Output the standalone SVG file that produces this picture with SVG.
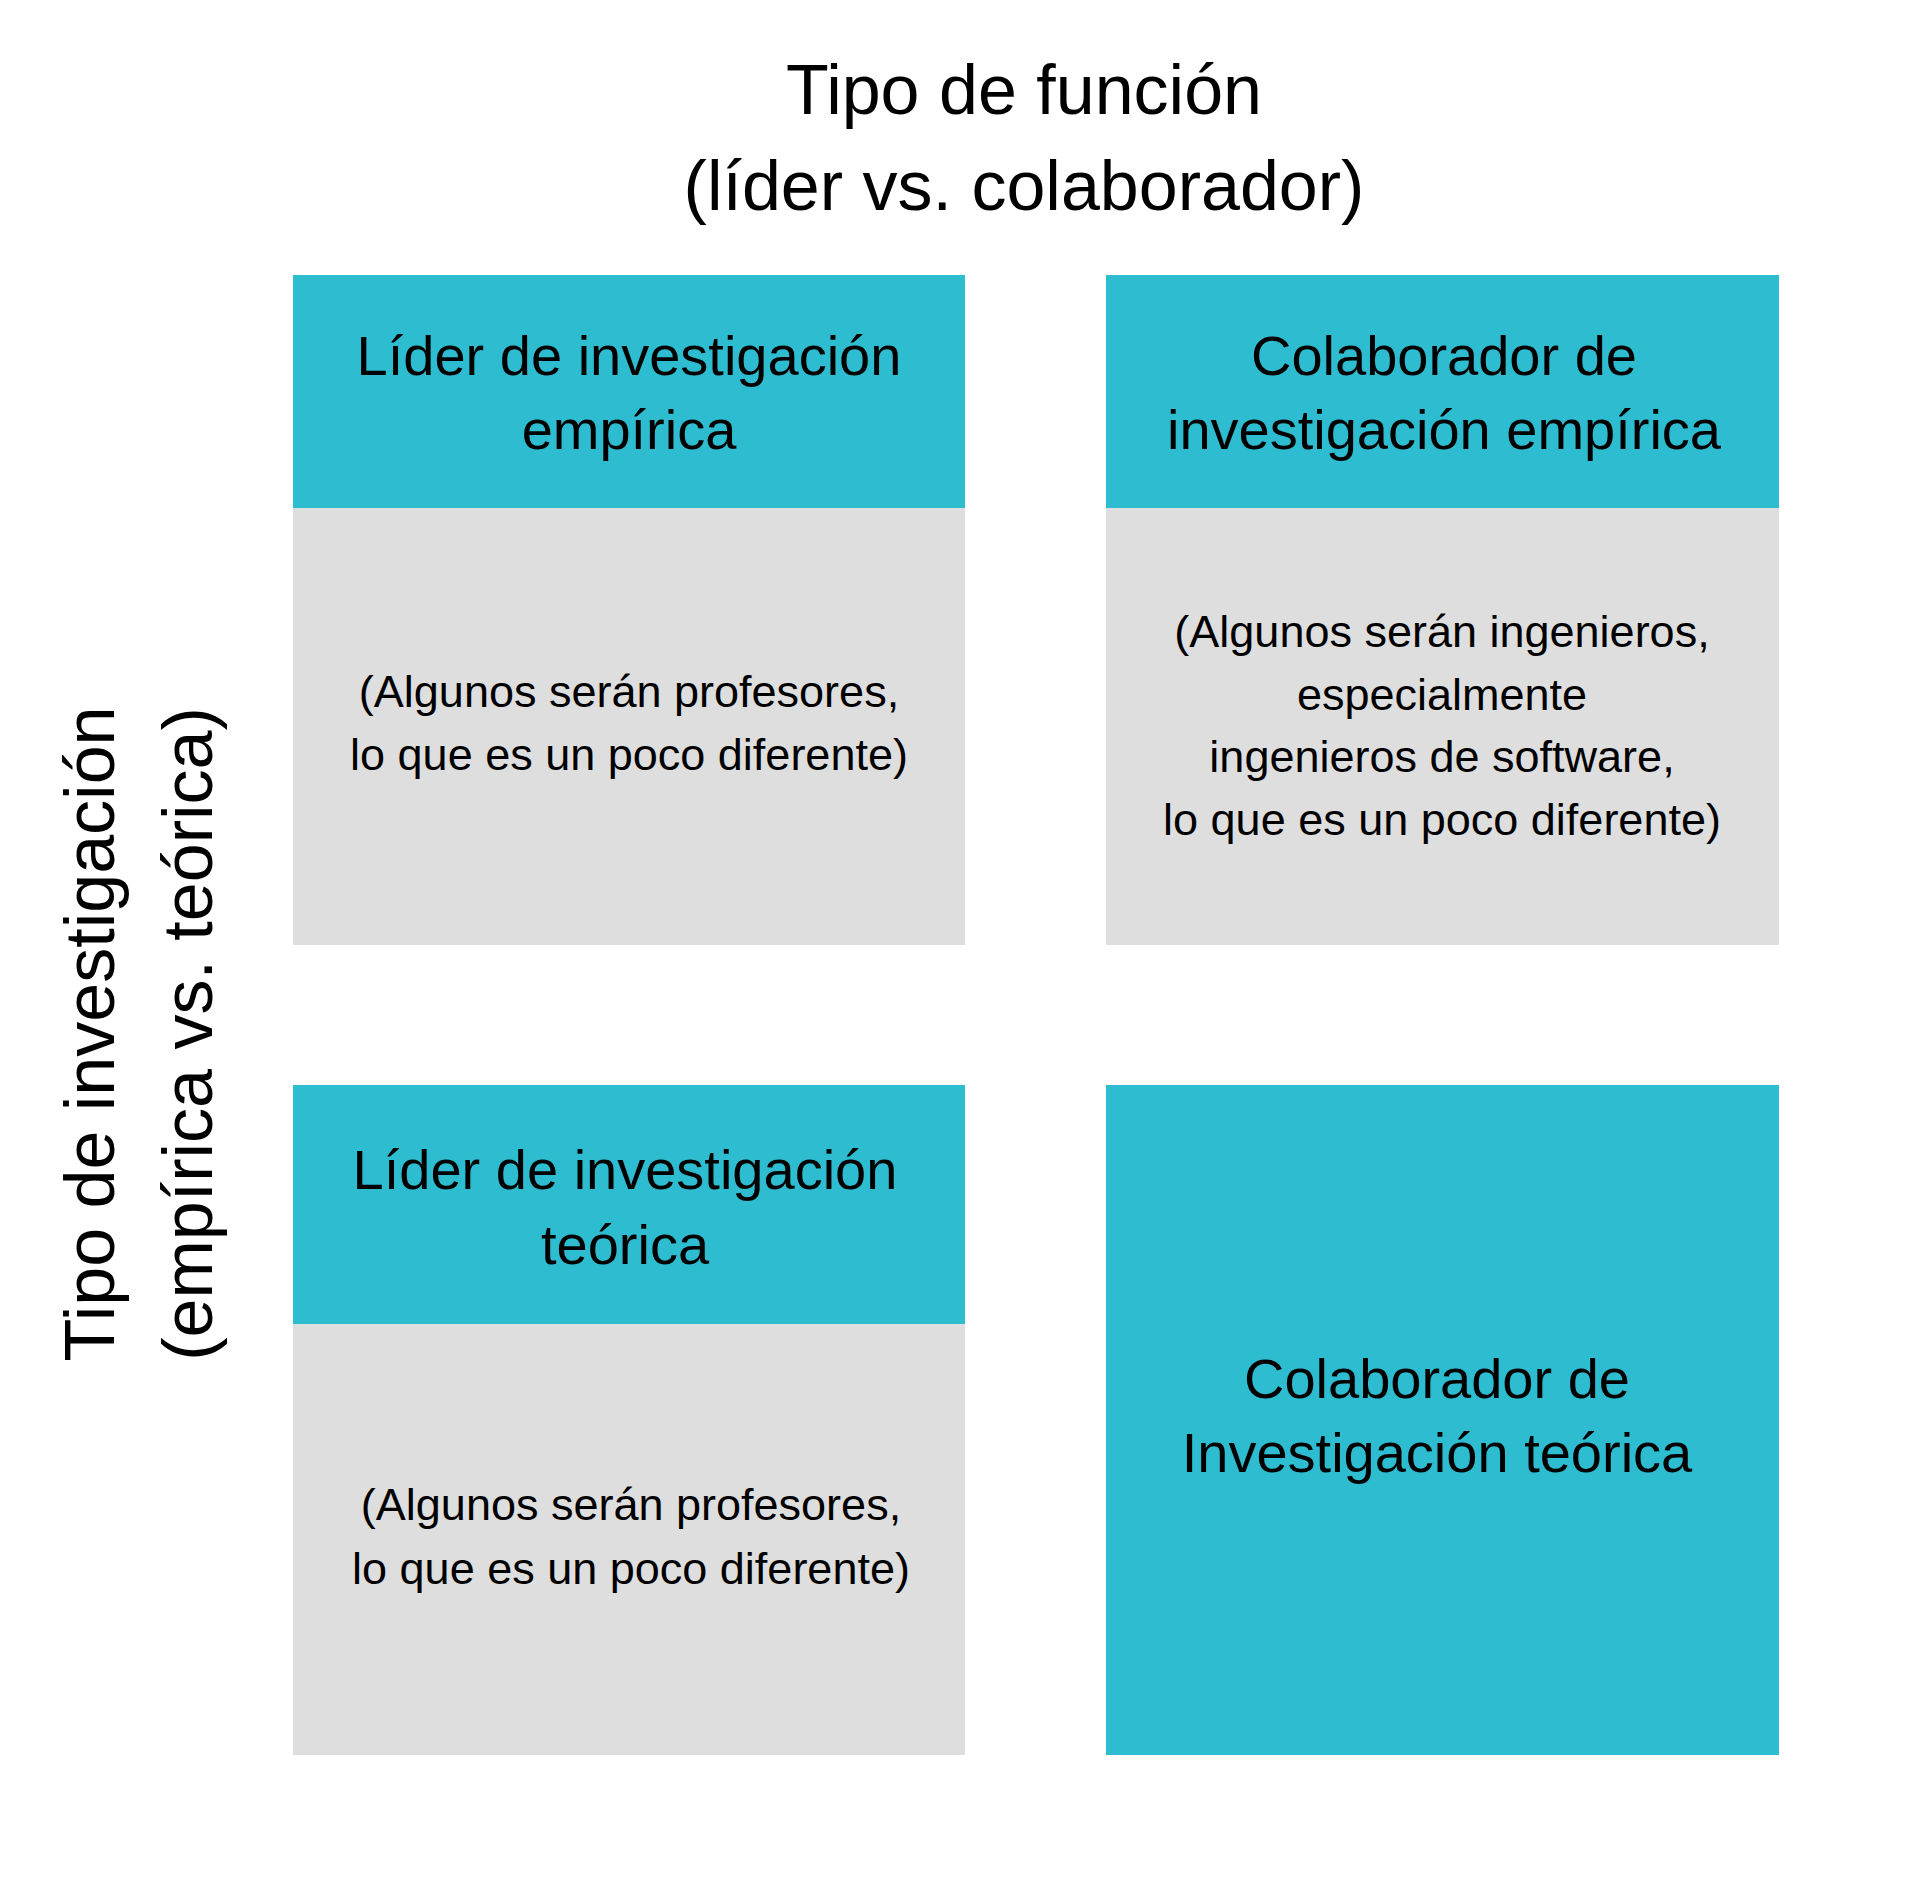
<svg xmlns="http://www.w3.org/2000/svg" width="1920" height="1897" viewBox="0 0 1920 1897">
<style>
text{font-family:"Liberation Sans",Arial,sans-serif;fill:#000;text-anchor:middle}
.t{font-size:70px}.h{font-size:56px}.b{font-size:45px}
.hd{fill:#2ebcd0}.bd{fill:#dedede}
</style>
<rect width="1920" height="1897" fill="#fff"/>
<g id="title"><text class="t" x="1024" y="114">Tipo de función</text><text class="t" x="1024" y="210">(líder vs. colaborador)</text></g>
<g id="axis"><text class="t" transform="translate(114,1034) rotate(-90)">Tipo de investigación</text><text class="t" transform="translate(212,1034) rotate(-90)">(empírica vs. teórica)</text></g>
<g id="q1"><rect class="hd" x="293" y="275" width="672" height="233"/><rect class="bd" x="293" y="508" width="672" height="437"/>
<text class="h" x="629" y="375">Líder de investigación</text><text class="h" x="629" y="449">empírica</text>
<text class="b" x="629" y="707">(Algunos serán profesores,</text><text class="b" x="629" y="770">lo que es un poco diferente)</text></g>
<g id="q2"><rect class="hd" x="1106" y="275" width="673" height="233"/><rect class="bd" x="1106" y="508" width="673" height="437"/>
<text class="h" x="1444" y="375">Colaborador de</text><text class="h" x="1444" y="449">investigación empírica</text>
<text class="b" x="1442" y="647">(Algunos serán ingenieros,</text><text class="b" x="1442" y="710">especialmente</text><text class="b" x="1442" y="772">ingenieros de software,</text><text class="b" x="1442" y="835">lo que es un poco diferente)</text></g>
<g id="q3"><rect class="hd" x="293" y="1085" width="672" height="239"/><rect class="bd" x="293" y="1324" width="672" height="431"/>
<text class="h" x="625" y="1189">Líder de investigación</text><text class="h" x="625" y="1264">teórica</text>
<text class="b" x="631" y="1520">(Algunos serán profesores,</text><text class="b" x="631" y="1584">lo que es un poco diferente)</text></g>
<g id="q4"><rect class="hd" x="1106" y="1085" width="673" height="670"/>
<text class="h" x="1437" y="1398">Colaborador de</text><text class="h" x="1437" y="1472">Investigación teórica</text></g>
<g id="connectors"/>
</svg>
